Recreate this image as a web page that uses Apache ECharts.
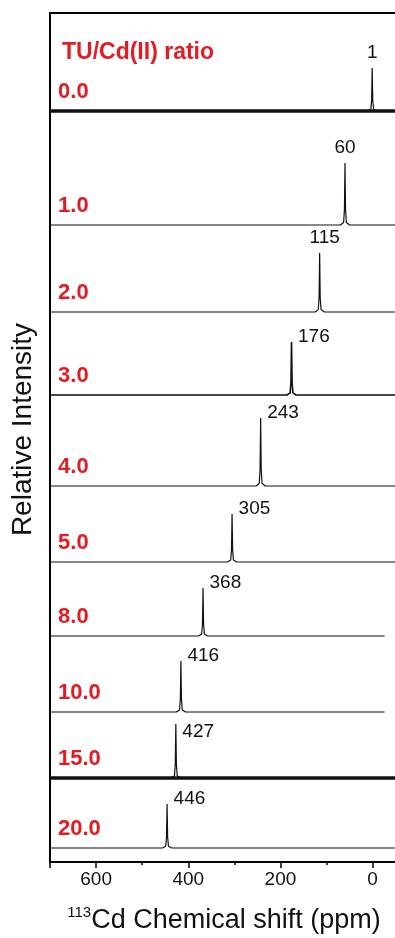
<!DOCTYPE html>
<html>
<head>
<meta charset="utf-8">
<script src="https://cdn.jsdelivr.net/npm/echarts@6/dist/echarts.min.js"></script>
<style>
    html, body { margin: 0; padding: 0; background: #fff; }
    #chart { width: 395px; height: 938px; }
</style>
</head>
<body>
<div id="chart"></div>
<script>
    // 113Cd spectra at each TU/Cd(II) ratio, stacked top to bottom
    const ratios = ['0.0', '1.0', '2.0', '3.0', '4.0', '5.0', '8.0', '10.0', '15.0', '20.0']
    const peakShifts = [1, 60, 115, 176, 243, 305, 368, 416, 427, 446]
    const baselines = [751, 637, 550, 467, 376, 300, 226, 150, 84, 14]
    const peakHeights = [43, 62, 59, 53, 68, 48, 48, 51, 54, 44]
    const traceEnds = [-55, -55, -55, -55, -55, -55, -26, -26, -55, -55]
    const majorTicks = [0, 200, 400, 600, 700]
    const minorTicks = [100, 300, 500]
    // shape of a peak: [ppm offset, fraction of peak height]
    const peakShape = [[10, 0], [3, 0.04], [1.2, 0.25], [0, 1], [-1.2, 0.25], [-3, 0.04], [-10, 0]]

    const red = '#e41b23'
    const ink = '#111'
    const font = '"Liberation Sans", Arial, sans-serif'
    // noisy traces look like a thick band
    const thickBase = {'0.0': 3.5, '15.0': 3.5}

    const traces = []
    ratios.forEach((r, i) => {
        const pts = [[700, baselines[i]]]
        peakShape.forEach(s => pts.push([peakShifts[i] + s[0], baselines[i] + peakHeights[i] * s[1]]))
        pts.push([traceEnds[i], baselines[i]])
        traces.push({
            type: 'line',
            data: pts,
            showSymbol: false,
            silent: true,
            lineStyle: {color: ink, width: r === '3.0' ? 1.6 : 1.2},
            z: 3
        })
        if (thickBase[r]) {
            traces.push({
                type: 'line',
                data: [[700, baselines[i]], [traceEnds[i], baselines[i]]],
                showSymbol: false,
                silent: true,
                lineStyle: {color: ink, width: thickBase[r]},
                z: 3
            })
        }
    })

    const peakLabels = peakShifts.map((p, i) => {
        let label = {position: 'right', distance: 6, offset: [0, -5]}
        if (i < 3) label = {position: 'top', distance: 5, offset: [i === 2 ? 5 : 0, 0]}
        if (i === 8) label = {position: 'right', distance: 6, offset: [0, 8]}
        return {value: [p, baselines[i] + peakHeights[i], String(p)], label: label}
    })

    const chartsOption = {
        animation: false,
        title: {
            text: 'TU/Cd(II) ratio',
            left: 57,
            top: 36,
            textStyle: {color: red, fontSize: 23, fontWeight: 'bold', fontFamily: font}
        },
        grid: [
            {left: 50, right: -3, top: 13, bottom: 76, outerBoundsMode: 'none', containLabel: false,
                show: true, borderColor: '#000', borderWidth: 2},
            {left: 50, right: -3, top: 13, bottom: 76, outerBoundsMode: 'none', containLabel: false, show: false}
        ],
        xAxis: [
            {
                type: 'value',
                gridIndex: 0,
                min: -55,
                max: 700,
                inverse: true,
                name: '{sup|113}Cd Chemical shift (ppm)',
                nameLocation: 'middle',
                nameGap: 43,
                nameTextStyle: {
                    color: ink, fontSize: 27, fontFamily: font, lineHeight: 32,
                    rich: {sup: {fontSize: 15, fontFamily: font, color: ink, verticalAlign: 'top', lineHeight: 32}}
                },
                axisLine: {onZero: false, lineStyle: {color: '#000', width: 2}},
                axisTick: {customValues: majorTicks, length: 6, lineStyle: {color: '#000', width: 1.5}},
                axisLabel: {customValues: majorTicks.slice(0, 4), color: ink, fontSize: 19, fontFamily: font, margin: 8},
                splitLine: {show: false}
            },
            {
                type: 'value',
                gridIndex: 1,
                min: -55,
                max: 700,
                inverse: true,
                axisLine: {show: false, onZero: false},
                axisTick: {customValues: minorTicks, length: 3, lineStyle: {color: '#000', width: 1.5}},
                axisLabel: {show: false},
                splitLine: {show: false}
            }
        ],
        yAxis: [
            {
                type: 'value',
                gridIndex: 0,
                min: 0,
                max: 849,
                name: 'Relative Intensity',
                nameLocation: 'middle',
                nameGap: 13,
                nameTextStyle: {color: ink, fontSize: 28, fontFamily: font, padding: [0, 0, 0, 16]},
                axisLine: {show: true, onZero: false, lineStyle: {color: '#000', width: 2}},
                axisTick: {show: false},
                axisLabel: {show: false},
                splitLine: {show: false}
            },
            {type: 'value', gridIndex: 1, min: 0, max: 849, show: false}
        ],
        series: traces.concat([
            {
                type: 'scatter',
                data: peakLabels,
                symbolSize: 1,
                silent: true,
                itemStyle: {color: 'rgba(0,0,0,0)', opacity: 1},
                label: {show: true, formatter: p => p.value[2], color: ink, fontSize: 19, fontFamily: font},
                z: 5
            },
            {
                type: 'scatter',
                data: ratios.map((r, i) => [688, baselines[i] + 19, r]),
                symbolSize: 1,
                silent: true,
                itemStyle: {color: 'rgba(0,0,0,0)', opacity: 1},
                label: {
                    show: true, position: 'right', distance: 2, formatter: p => p.value[2],
                    color: red, fontSize: 22, fontWeight: 'bold', fontFamily: font
                },
                z: 5
            }
        ])
    }

    const pieCharts = echarts.init(document.getElementById('chart'))
    pieCharts.setOption(chartsOption)
    window.addEventListener('resize', () => pieCharts.resize())
</script>
</body>
</html>
